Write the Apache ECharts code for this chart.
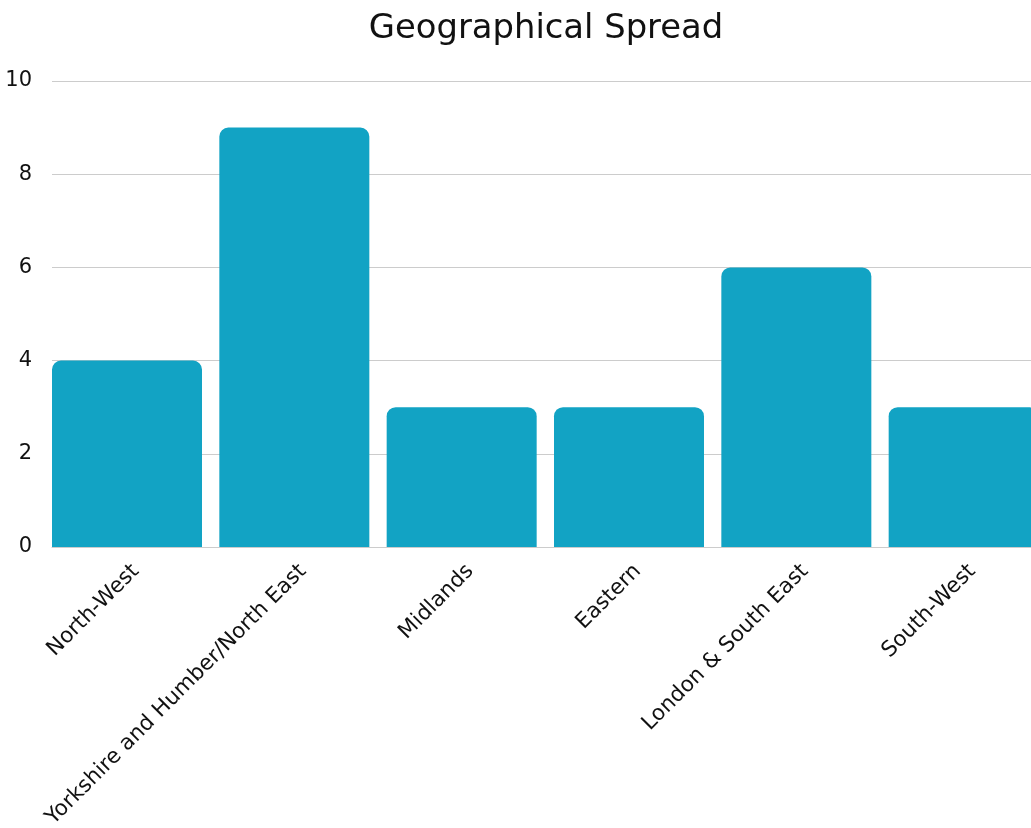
<!DOCTYPE html>
<html>
<head>
<meta charset="utf-8">
<title>Geographical Spread</title>
<script src="https://cdn.jsdelivr.net/npm/echarts@6/dist/echarts.min.js"></script>
<style>
  html, body { margin: 0; padding: 0; background: #ffffff; overflow: hidden; }
  /* the plot runs slightly past the right edge of the page */
  #chart { width: 1056px; height: 828px; }
</style>
</head>
<body>
<div id="chart"></div>
<script>
// Regions and the count recorded for each
const regions = ['North-West', 'Yorkshire and Humber/North East', 'Midlands', 'Eastern', 'London & South East', 'South-West'];
const counts = [4, 9, 3, 3, 6, 3];
const yTicks = [0, 2, 4, 6, 8, 10];

const FONT = '"DejaVu Sans", "Noto Sans", sans-serif';

const chart = echarts.init(document.getElementById('chart'), null, { renderer: 'canvas' });

chart.setOption({
  backgroundColor: '#ffffff',
  animation: false,
  title: {
    text: 'Geographical Spread',
    left: 541,
    top: 7,
    textAlign: 'center',
    textStyle: { fontFamily: FONT, fontSize: 33.8, fontWeight: 'normal', color: '#111111' }
  },
  grid: {
    left: 52, top: 81, width: 1004, height: 466,
    containLabel: false,
    outerBoundsMode: 'none'
  },
  xAxis: {
    type: 'category',
    data: regions,
    axisTick: { show: false },
    axisLine: { show: true, lineStyle: { color: '#cccccc', width: 1 } },
    axisLabel: {
      rotate: 45,
      interval: 0,
      margin: 21,
      fontFamily: FONT,
      fontSize: 21.5,
      color: '#111111'
    }
  },
  yAxis: {
    type: 'value',
    min: yTicks[0],
    max: yTicks[yTicks.length - 1],
    interval: 2,
    axisLine: { show: false },
    axisTick: { show: false },
    axisLabel: { margin: 20, fontFamily: FONT, fontSize: 21, color: '#111111' },
    splitLine: { lineStyle: { color: '#cccccc', width: 1 } }
  },
  series: [
    {
      type: 'bar',
      data: counts,
      barWidth: 150,
      barGap: 0,
      barCategoryGap: 0,
      itemStyle: { color: '#12a3c4', borderRadius: [9, 9, 0, 0] }
    },
    {
      // spacer column that keeps each bar at the left edge of its category
      type: 'bar',
      data: counts.map(() => null),
      barWidth: 17.33,
      itemStyle: { color: 'transparent' }
    }
  ]
});
</script>
</body>
</html>
